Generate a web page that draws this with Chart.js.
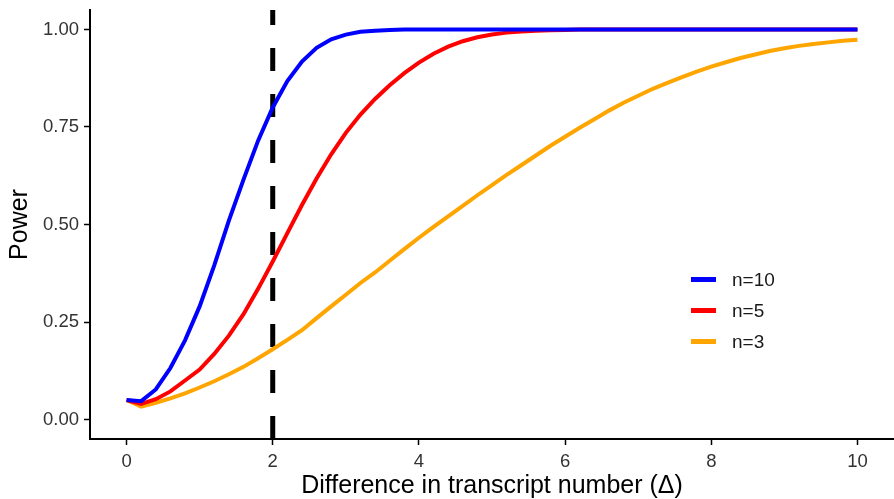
<!DOCTYPE html>
<html>
<head>
<meta charset="utf-8">
<script src="https://cdn.jsdelivr.net/npm/chart.js@4/dist/chart.umd.min.js"></script>
<style>
  html, body { margin: 0; padding: 0; background: #fff; }
  #wrap { position: relative; width: 894px; height: 499px; font-family: "Liberation Sans", Arial, sans-serif; }
  #legend { position: absolute; left: 691px; top: 264px; }
  .row { display: flex; align-items: center; height: 31px; }
  .key { width: 25px; height: 5px; margin-right: 16px; }
  .lbl { font-size: 19px; color: #1a1a1a; }
</style>
</head>
<body>
<div id="wrap">
  <canvas id="powerChart" width="894" height="499"></canvas>
  <div id="legend"></div>
</div>
<script>
// --- data ---
const deltas = [0, 0.2, 0.4, 0.6, 0.8, 1, 1.2, 1.4, 1.6, 1.8, 2, 2.2, 2.4, 2.6, 2.8, 3, 3.2, 3.4, 3.6, 3.8,
                4, 4.2, 4.4, 4.6, 4.8, 5, 5.2, 5.4, 5.6, 5.8, 6, 6.2, 6.4, 6.6, 6.8, 7, 7.2, 7.4, 7.6, 7.8,
                8, 8.2, 8.4, 8.6, 8.8, 9, 9.2, 9.4, 9.6, 9.8, 10];

const powerN10 = [0.05, 0.047, 0.077, 0.132, 0.203, 0.29, 0.395, 0.51, 0.615, 0.715, 0.80, 0.868, 0.918, 0.953, 0.975, 0.987, 0.994, 0.997, 0.999, 1,
                  1, 1, 1, 1, 1, 1, 1, 1, 1, 1, 1, 1, 1, 1, 1, 1, 1, 1, 1, 1,
                  1, 1, 1, 1, 1, 1, 1, 1, 1, 1, 1];

const powerN5 = [0.05, 0.04, 0.052, 0.072, 0.10, 0.128, 0.168, 0.215, 0.27, 0.335, 0.405, 0.478, 0.55, 0.618, 0.68, 0.735, 0.782, 0.822, 0.857, 0.888,
                 0.915, 0.938, 0.956, 0.97, 0.98, 0.987, 0.992, 0.995, 0.997, 0.998, 0.999, 1, 1, 1, 1, 1, 1, 1, 1, 1,
                 1, 1, 1, 1, 1, 1, 1, 1, 1, 1, 1];

const powerN3 = [0.05, 0.033, 0.043, 0.054, 0.067, 0.082, 0.098, 0.116, 0.135, 0.157, 0.18, 0.204, 0.229, 0.26, 0.29, 0.32, 0.35, 0.377, 0.407, 0.437,
                 0.466, 0.494, 0.521, 0.548, 0.575, 0.601, 0.627, 0.652, 0.677, 0.702, 0.725, 0.748, 0.77, 0.792, 0.812, 0.83, 0.848, 0.863, 0.878, 0.892,
                 0.905, 0.916, 0.927, 0.936, 0.945, 0.952, 0.958, 0.963, 0.967, 0.971, 0.974];

const seriesLabels = ['n=10', 'n=5', 'n=3'];
const seriesColors = ['#0000FF', '#FF0000', '#FFA500'];
const cutoffDelta = 2;

const xTicks = [0, 2, 4, 6, 8, 10];
const yTicks = [0, 0.25, 0.5, 0.75, 1];

const FONT = '"Liberation Sans", Arial, sans-serif';

// --- build datasets ---
const allSeries = [powerN10, powerN5, powerN3];
const datasets = allSeries.map((vals, i) => ({
    label: seriesLabels[i],
    data: deltas.map((d, k) => ({ x: d, y: vals[k] })),
    borderColor: seriesColors[i],
    borderWidth: 4,
    pointRadius: 0,
    tension: 0,
    fill: false
}));

// dashed cut-off line, drawn bottom to top so the dash phase matches
datasets.push({
    label: 'cutoff',
    data: [{ x: cutoffDelta, y: -0.05 }, { x: cutoffDelta, y: 1.05 }],
    borderColor: '#000',
    borderWidth: 5,
    borderDash: [23, 23],
    borderCapStyle: 'butt',
    pointRadius: 0,
    fill: false
});

new Chart(document.getElementById('powerChart'), {
    type: 'line',
    data: { datasets: datasets },
    options: {
        responsive: false,
        animation: false,
        layout: { padding: { top: 10, right: 0, left: 0, bottom: 0 } },
        plugins: { legend: { display: false }, tooltip: { enabled: false } },
        scales: {
            x: {
                type: 'linear',
                min: -0.5,
                max: 10.5,
                afterBuildTicks: s => { s.ticks = xTicks.map(v => ({ value: v })); },
                afterFit: s => { s.height = 60; s.paddingLeft = 0; s.paddingRight = 0; },
                grid: { display: true, drawOnChartArea: false, drawTicks: true, tickLength: 6, tickWidth: 1.5, tickColor: '#000' },
                border: { display: true, color: '#000', width: 2 },
                ticks: { font: { family: FONT, size: 18.5 }, color: '#333', padding: 6, maxRotation: 0 },
                title: { display: true, text: 'Difference in transcript number (Δ)', font: { family: FONT, size: 25 }, color: '#000', padding: { top: 0, bottom: -2 } }
            },
            y: {
                min: -0.05,
                max: 1.05,
                afterBuildTicks: s => { s.ticks = yTicks.map(v => ({ value: v })); },
                afterFit: s => { s.width = 90; s.paddingTop = 0; s.paddingBottom = 0; },
                grid: { display: true, drawOnChartArea: false, drawTicks: true, tickLength: 6, tickWidth: 1.5, tickColor: '#000' },
                border: { display: true, color: '#000', width: 2 },
                ticks: { font: { family: FONT, size: 18.5 }, color: '#333', padding: 5, callback: v => Number(v).toFixed(2) },
                title: { display: true, text: 'Power', font: { family: FONT, size: 25 }, color: '#000', padding: { top: 5, bottom: 0 } }
            }
        }
    }
});

// --- legend inside the plot ---
const legend = document.getElementById('legend');
seriesLabels.forEach((lab, i) => {
    legend.insertAdjacentHTML('beforeend',
        `<div class="row"><span class="key" style="background:${seriesColors[i]}"></span><span class="lbl">${lab}</span></div>`);
});
</script>
</body>
</html>
